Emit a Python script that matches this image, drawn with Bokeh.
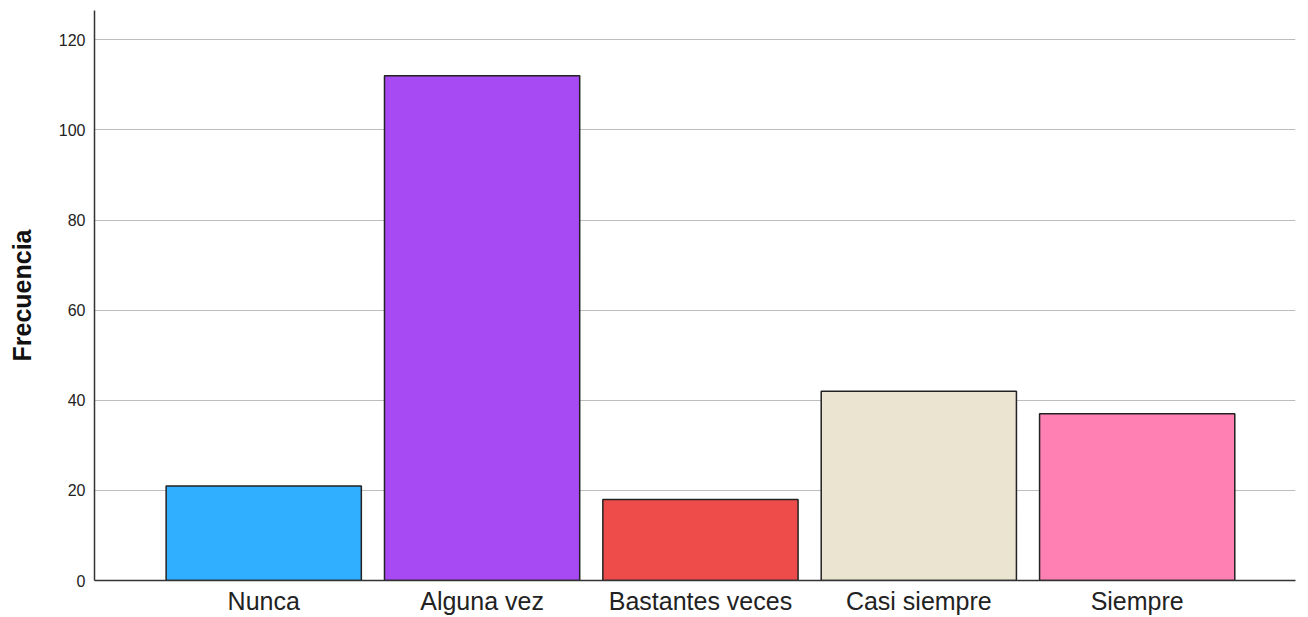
from bokeh.plotting import figure
from bokeh.models import Range1d, FixedTicker, ColumnDataSource
from bokeh.embed import file_html
from bokeh.resources import INLINE

categories = ["Nunca", "Alguna vez", "Bastantes veces", "Casi siempre", "Siempre"]
frecuencia = [21, 112, 18, 42, 37]
colores = ["#30AEFF", "#A74AF3", "#EE4B4B", "#EAE4D0", "#FF80B3"]
y_ticks = [0, 20, 40, 60, 80, 100, 120]

xs = list(range(len(categories)))
src = ColumnDataSource(dict(x=xs, top=frecuencia, color=colores))

p = figure(width=1308, height=617, output_backend="svg", toolbar_location=None,
           x_range=Range1d(-0.775, 4.725), y_range=Range1d(0, 126.5),
           min_border_left=94, min_border_right=13, min_border_top=10, min_border_bottom=36)
p.outline_line_color = None
p.background_fill_color = "white"

p.vbar(x="x", top="top", bottom=0, width=0.894, fill_color="color",
       line_color="#222222", line_width=1.5, source=src)

font = "Liberation Sans"
p.xaxis.ticker = FixedTicker(ticks=xs)
p.xaxis.major_label_overrides = {i: c for i, c in enumerate(categories)}
p.xaxis.major_tick_line_color = None
p.xaxis.minor_tick_line_color = None
p.xaxis.major_tick_out = 0
p.xaxis.major_label_standoff = 6
p.xaxis.major_label_text_font = font
p.xaxis.major_label_text_font_size = "25px"
p.xaxis.major_label_text_color = "#222222"
p.xaxis.axis_line_color = "#333333"
p.xaxis.axis_line_width = 1.5

p.yaxis.ticker = FixedTicker(ticks=y_ticks)
p.yaxis.major_tick_line_color = None
p.yaxis.minor_tick_line_color = None
p.yaxis.major_tick_out = 0
p.yaxis.major_label_standoff = 9
p.yaxis.major_label_text_font = font
p.yaxis.major_label_text_font_size = "16px"
p.yaxis.major_label_text_color = "#222222"
p.yaxis.axis_line_color = "#333333"
p.yaxis.axis_line_width = 1.5
p.yaxis.axis_label = "Frecuencia"
p.yaxis.axis_label_text_font = font
p.yaxis.axis_label_text_font_style = "bold"
p.yaxis.axis_label_text_font_size = "25px"
p.yaxis.axis_label_text_color = "#111111"
p.yaxis.axis_label_standoff = 20

p.xgrid.grid_line_color = None
p.ygrid.grid_line_color = "#BDBDBD"
p.ygrid.grid_line_width = 1

open("out.html", "w").write(file_html(p, INLINE))
